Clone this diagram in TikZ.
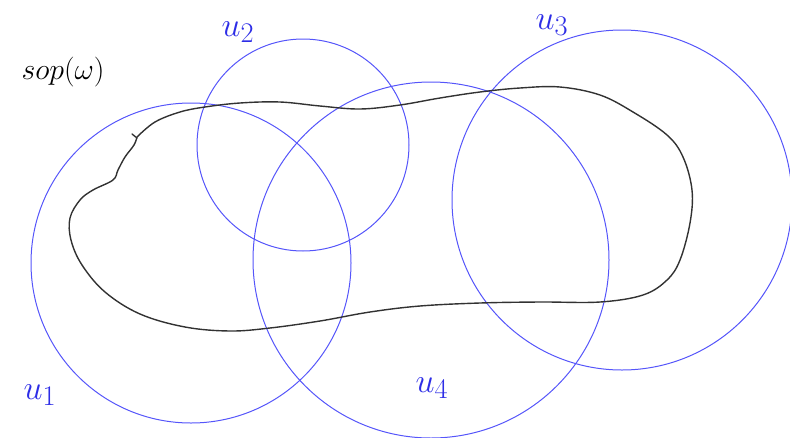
\documentclass[tikz,border=0pt]{standalone}
\usepackage{graphicx}
\usepackage{xcolor}
\usepackage{tikz}
\definecolor{cover}{RGB}{85,85,250}
\definecolor{ink}{RGB}{45,45,230}
\definecolor{curve}{RGB}{50,50,50}
\newcommand{\setname}[1]{\scalebox{1.37}{\Huge$#1$}}

\begin{document}
\begin{tikzpicture}[x=1pt,y=-1pt,
  ball/.style={draw=cover,line width=1pt},
  supp/.style={draw=curve,line width=1.4pt,line cap=round},
  lbl/.style={text=ink,inner sep=0pt}]
\useasboundingbox (0,0) rectangle (790,437);
% centres of the open sets
\coordinate (c1) at (191,263);
\coordinate (c2) at (303,145);
\coordinate (c3) at (622,200);
\coordinate (c4) at (431,260);
\draw[ball] (c1) circle[radius=160pt];
\draw[ball] (c2) circle[radius=106pt];
\draw[ball] (c3) circle[radius=170pt];
\draw[ball] (c4) circle[radius=178pt];
% the support
\draw[supp] plot[smooth,tension=0.6] coordinates {(137,137) (155,122) (180,112)
  (205,107) (240,103) (280,102) (320,106) (360,109) (400,105) (440,98)
  (480,92) (520,88) (560,87) (600,95) (633,112) (667,135) (683,157)
  (692,190) (690,223) (680,260) (667,280) (643,295) (600,302) (540,302)
  (480,303) (420,306) (370,312) (320,321) (270,328) (230,331) (185,327)
  (140,314) (105,292) (82,265) (71,240) (70,218) (80,200) (93,190)
  (113,180) (118,170) (125,157) (134,145) (137,137)};
\draw[supp] (132,134)--(137,138);
\node[inner sep=0pt] (sop) at (63,72) {\scalebox{1.2}{\Huge$sop(\omega)$}};
\node[lbl] (l1) at (40,395) {\setname{u_1}};
\node[lbl] (l2) at (238,32) {\setname{u_2}};
\node[lbl] (l3) at (552,25) {\setname{u_3}};
\node[lbl] (l4) at (432,388) {\setname{u_4}};
\end{tikzpicture}
\end{document}
